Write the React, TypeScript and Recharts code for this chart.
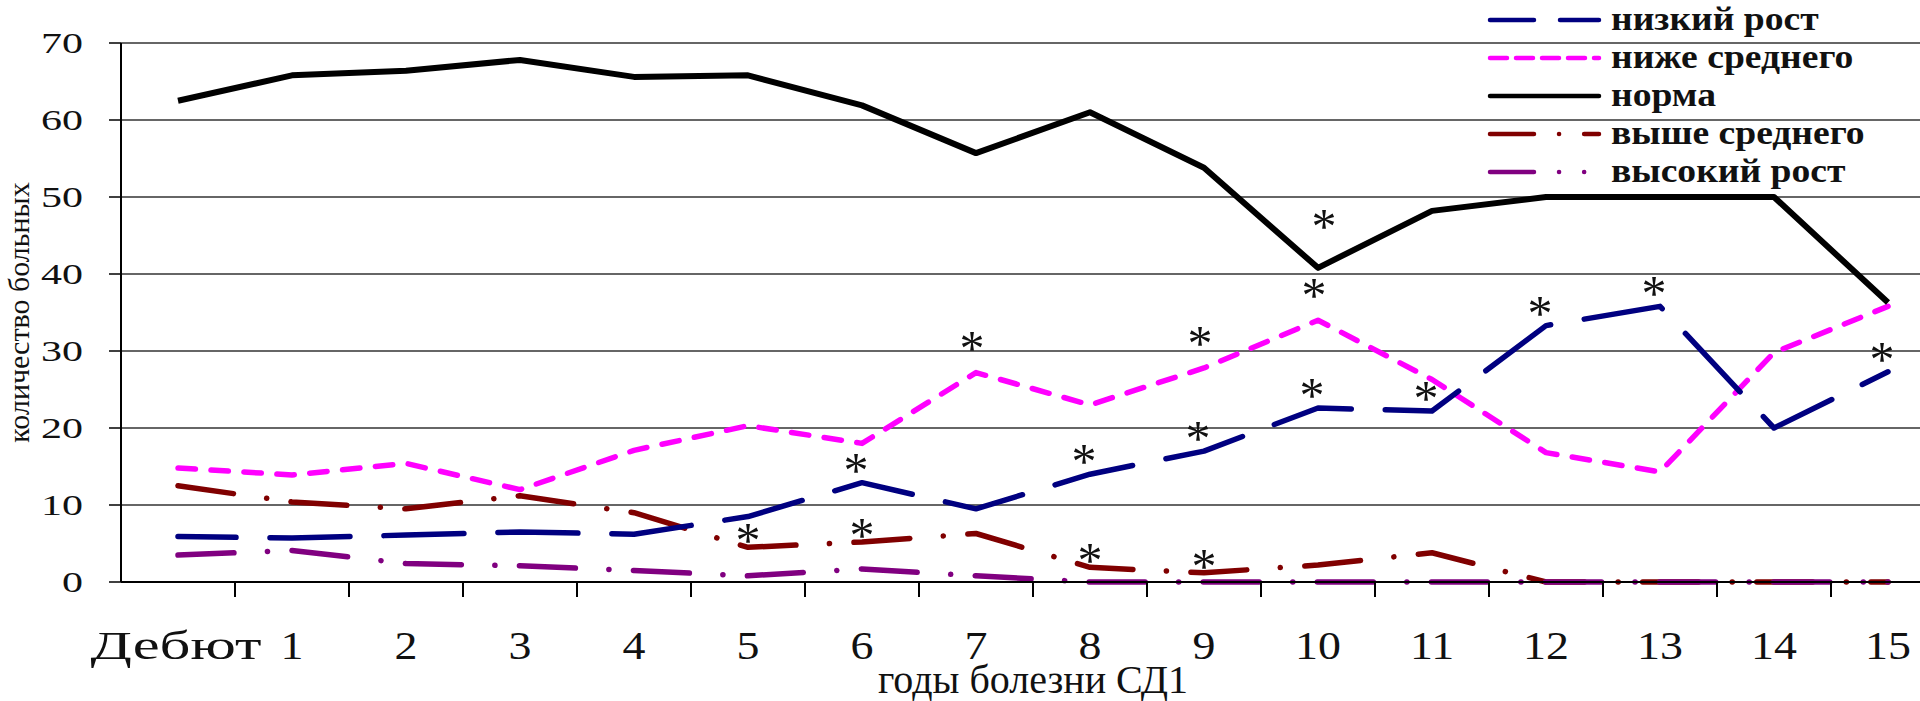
import {
  CartesianGrid,
  Label,
  LabelList,
  Legend,
  Line,
  LineChart,
  XAxis,
  YAxis,
} from "recharts";

const FONT = '"Liberation Serif", "Times New Roman", serif';

// years of illness (Дебют = onset)
const categories = ["Дебют", "1", "2", "3", "4", "5", "6", "7", "8", "9", "10", "11", "12", "13", "14", "15"];

// number of patients by growth group
const lowGrowth = [5.9, 5.7, 6.1, 6.5, 6.2, 8.5, 12.9, 9.5, 14.0, 17.0, 22.6, 22.2, 33.3, 35.8, 20.0, 27.3];
const belowAverage = [14.8, 13.9, 15.4, 12.0, 17.1, 20.3, 18.0, 27.2, 23.0, 27.8, 34.0, 26.3, 16.8, 14.3, 29.8, 35.8];
const normal = [62.5, 65.8, 66.4, 67.8, 65.6, 65.8, 61.9, 55.7, 61.0, 53.8, 40.8, 48.2, 50.0, 50.0, 50.0, 36.3];
const aboveAverage = [12.5, 10.4, 9.5, 11.2, 9.0, 4.5, 5.2, 6.3, 1.9, 1.2, 2.2, 3.8, 0, 0, 0, 0];
const tall = [3.5, 4.1, 2.4, 2.1, 1.5, 0.8, 1.7, 0.8, 0, 0, 0, 0, 0, 0, 0, 0];

// indices marked with * (significant difference)
const lowStars = [6, 8, 9, 10, 11, 12, 13, 15];
const belowStars = [7, 9, 10];
const normalStars = [10];
const aboveStars = [5, 6, 8, 9];

const yTicks = [0, 10, 20, 30, 40, 50, 60, 70];

const data = categories.map((year, i) => ({
  year,
  low: lowGrowth[i],
  below: belowAverage[i],
  normal: normal[i],
  above: aboveAverage[i],
  tall: tall[i],
}));

const legendItems = [
  { name: "низкий рост", color: "#000080", dash: "44 26" },
  { name: "ниже среднего", color: "#ff00ff", dash: "17 9" },
  { name: "норма", color: "#000000", dash: undefined },
  { name: "выше среднего", color: "#800000", dash: "44 25 0.1 25 44" },
  { name: "высокий рост", color: "#800080", dash: "44 25 0.1 25 0.1 60" },
];

const STAR_SIZE = 50;

function starContent(marks: number[], dx: number, dy: number) {
  return (props: any) => {
    const { x, y, index } = props;
    if (x == null || y == null || !marks.includes(index)) return null;
    return (
      <text
        x={x + dx}
        y={y + dy + STAR_SIZE * 0.5}
        textAnchor="middle"
        fontSize={STAR_SIZE}
        fontFamily={FONT}
        fill="#111"
      >
        *
      </text>
    );
  };
}

function YTick({ x, y, payload }: any) {
  return (
    <text
      transform={`translate(${x},${y}) scale(1.4,1)`}
      textAnchor="end"
      dy="0.34em"
      fontSize={30}
      fontFamily={FONT}
      fill="#111"
    >
      {payload.value}
    </text>
  );
}

function XTick({ x, y, payload }: any) {
  const half = payload.offset || 57;
  const word = isNaN(Number(payload.value));
  return (
    <g>
      <line x1={x + half} x2={x + half} y1={y} y2={y + 15} stroke="#000" strokeWidth={2} />
      <text
        transform={`translate(${x - (word ? 2 : 0)},${y + 77}) scale(${word ? 1.48 : 1.12},1)`}
        textAnchor="middle"
        fontSize={41}
        fontFamily={FONT}
        fill="#111"
      >
        {payload.value}
      </text>
    </g>
  );
}

function ChartLegend() {
  return (
    <svg width={450} height={200}>
      {legendItems.map((item, i) => {
        const cy = 20 + i * 38;
        return (
          <g key={item.name}>
            <line
              x1={22}
              x2={131}
              y1={cy}
              y2={cy}
              stroke={item.color}
              strokeWidth={4.5}
              strokeDasharray={item.dash}
              strokeLinecap="round"
            />
            <text
              transform={`translate(143,${cy + 10}) scale(1.14,1)`}
              fontSize={33}
              fontWeight={700}
              fontFamily={FONT}
              fill="#111"
            >
              {item.name}
            </text>
          </g>
        );
      })}
    </svg>
  );
}

export default function App() {
  return (
    <div
      style={{
        position: "absolute",
        left: 0,
        top: 0,
        width: 1920,
        height: 701,
        overflow: "hidden",
        background: "#fff",
      }}
    >
      <LineChart width={1960} height={701} data={data} margin={{ top: 43, right: 15, bottom: 0, left: 0 }}>
        <CartesianGrid horizontal vertical={false} stroke="#333" strokeWidth={1.5} />
        <XAxis
          dataKey="year"
          scale="band"
          height={119}
          interval={0}
          tickSize={0}
          tickMargin={0}
          tickLine={false}
          axisLine={{ stroke: "#000", strokeWidth: 2 }}
          tick={<XTick />}
        >
          <Label
            content={({ viewBox }: any) => (
              <text
                x={viewBox.x + viewBox.width / 2}
                y={viewBox.y + 111}
                textAnchor="middle"
                fontSize={40}
                fontFamily={FONT}
                fill="#111"
              >
                годы болезни СД1
              </text>
            )}
          />
        </XAxis>
        <YAxis
          width={121}
          domain={[0, 70]}
          ticks={yTicks}
          interval={0}
          tickSize={12}
          tickMargin={26}
          tickLine={{ stroke: "#000", strokeWidth: 1.5 }}
          axisLine={{ stroke: "#000", strokeWidth: 2 }}
          tick={<YTick />}
        >
          <Label
            content={({ viewBox }: any) => (
              <text
                transform={`translate(${viewBox.x + 29},${viewBox.y + viewBox.height / 2}) rotate(-90)`}
                textAnchor="middle"
                fontSize={30}
                fontFamily={FONT}
                fill="#111"
              >
                количество больных
              </text>
            )}
          />
        </YAxis>
        <Legend
          layout="vertical"
          align="center"
          verticalAlign="middle"
          wrapperStyle={{ left: 1468, top: 0, width: 450, height: 200 }}
          content={() => <ChartLegend />}
        />
        <Line
          dataKey="above"
          name="выше среднего"
          stroke="#800000"
          strokeWidth={5.5}
          strokeDasharray="56 33.5 0.1 24.5"
          strokeLinecap="round"
          strokeLinejoin="round"
          dot={false}
          activeDot={false}
          isAnimationActive={false}
        >
          <LabelList dataKey="above" content={starContent(aboveStars, 0, -15)} />
        </Line>
        <Line
          dataKey="tall"
          name="высокий рост"
          stroke="#800080"
          strokeWidth={5.5}
          strokeDasharray="56 33.5 0.1 24.5"
          strokeLinecap="round"
          strokeLinejoin="round"
          dot={false}
          activeDot={false}
          isAnimationActive={false}
        />
        <Line
          dataKey="below"
          name="ниже среднего"
          stroke="#ff00ff"
          strokeWidth={5.5}
          strokeDasharray="17.5 15.5"
          strokeLinecap="round"
          strokeLinejoin="round"
          dot={false}
          activeDot={false}
          isAnimationActive={false}
        >
          <LabelList dataKey="below" content={starContent(belowStars, -4, -33)} />
        </Line>
        <Line
          dataKey="low"
          name="низкий рост"
          stroke="#000080"
          strokeWidth={5.5}
          strokeDasharray="80 34"
          strokeDashoffset={22}
          strokeLinecap="round"
          strokeLinejoin="round"
          dot={false}
          activeDot={false}
          isAnimationActive={false}
        >
          <LabelList dataKey="low" content={starContent(lowStars, -6, -21)} />
        </Line>
        <Line
          dataKey="normal"
          name="норма"
          stroke="#000000"
          strokeWidth={6}
          strokeLinejoin="round"
          dot={false}
          activeDot={false}
          isAnimationActive={false}
        >
          <LabelList dataKey="normal" content={starContent(normalStars, 6, -50)} />
        </Line>
      </LineChart>
    </div>
  );
}
